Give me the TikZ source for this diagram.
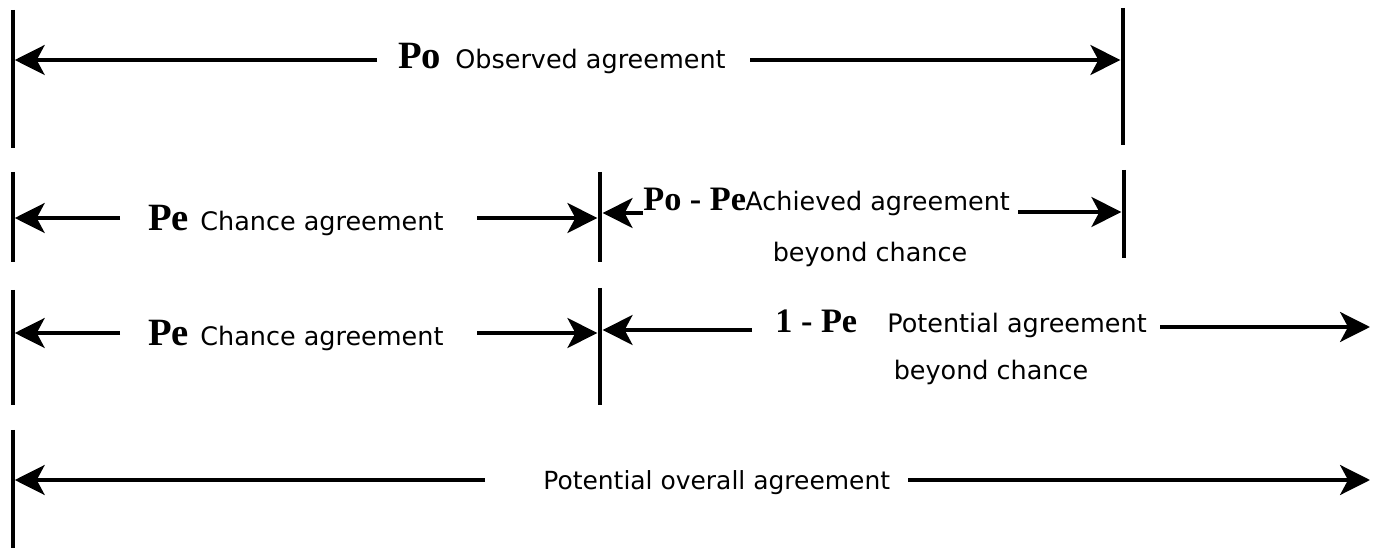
\documentclass[tikz,border=0pt]{standalone}
\usepackage{fontspec}
\setmainfont{DejaVu Sans}
\newfontfamily\serifb{Liberation Serif}
\usetikzlibrary{arrows.meta}
\tikzset{
  bar/.style={line width=2.3pt},
  arr/.style={line width=2.3pt,-{Stealth[length=17pt,width=17pt,inset=4.5pt]}},
  lbl/.style={inner sep=0pt,anchor=base west,font=\fontsize{14.5}{17}\selectfont},
  lblc/.style={inner sep=0pt,anchor=base,font=\fontsize{14.5}{17}\selectfont},
  sym/.style={inner sep=0pt,anchor=base west,font=\serifb\bfseries\fontsize{22}{24}\selectfont},
  syms/.style={sym,font=\serifb\bfseries\fontsize{19.5}{22}\selectfont},
}
\begin{document}
\begin{tikzpicture}[x=0.02cm,y=-0.02cm]
\useasboundingbox (0,0) rectangle (1373,550);
% bars
\coordinate (b1t) at (13,10);   \coordinate (b1b) at (13,148);
\coordinate (b1rt) at (1123,8); \coordinate (b1rb) at (1123,145);
\coordinate (b2t) at (13,172);  \coordinate (b2b) at (13,262);
\coordinate (b2mt) at (600,172);\coordinate (b2mb) at (600,262);
\coordinate (b2rt) at (1124,170);\coordinate (b2rb) at (1124,258);
\coordinate (b3t) at (13,290);  \coordinate (b3b) at (13,405);
\coordinate (b3mt) at (600,288);\coordinate (b3mb) at (600,405);
\coordinate (b4t) at (13,430);  \coordinate (b4b) at (13,548);
\foreach \a/\b in {b1t/b1b,b1rt/b1rb,b2t/b2b,b2mt/b2mb,b2rt/b2rb,b3t/b3b,b3mt/b3mb,b4t/b4b}
  \draw[bar] (\a) -- (\b);
% row 1
\node[sym] (p1) at (398,69) {Po};
\node[lbl] (t1) at (455,69) {Observed agreement};
\coordinate (a1l) at (377,60); \coordinate (a1r) at (750,60);
\draw[arr] (a1l) -- ([xshift=1pt]b1t |- a1l);
\draw[arr] (a1r) -- ([xshift=-1.5pt]b1rt |- a1r);
% row 2 left
\node[sym] (p2) at (148,231) {Pe};
\node[lbl] (t2) at (200,231) {Chance agreement};
\coordinate (a2l) at (120,218); \coordinate (a2r) at (477,218);
\draw[arr] (a2l) -- ([xshift=1pt]b2t |- a2l);
\draw[arr] (a2r) -- ([xshift=-1.5pt]b2mt |- a2r);
% row 2 right
\node[syms] (p2b) at (643,211) {Po - Pe};
\node[lbl] (t2b) at (745,211) {Achieved agreement};
\node[lblc] (t2c) at (870,262) {beyond chance};
\coordinate (a2bl) at (643,213); \coordinate (a2br) at (1018,212);
\draw[arr] (a2bl) -- ([xshift=1.5pt]b2mt |- a2bl);
\draw[arr] (a2br) -- ([xshift=-1.5pt]b2rt |- a2br);
% row 3 left
\node[sym] (p3) at (148,346) {Pe};
\node[lbl] (t3) at (200,346) {Chance agreement};
\coordinate (a3l) at (120,333); \coordinate (a3r) at (477,333);
\draw[arr] (a3l) -- ([xshift=1pt]b3t |- a3l);
\draw[arr] (a3r) -- ([xshift=-1.5pt]b3mt |- a3r);
% row 3 right
\node[syms] (p3b) at (775,333) {1 - Pe};
\node[lbl] (t3b) at (887,333) {Potential agreement};
\node[lblc] (t3c) at (991,380) {beyond chance};
\coordinate (a3bl) at (752,330); \coordinate (a3br) at (1160,327);
\coordinate (e3) at (1370,327);
\draw[arr] (a3bl) -- ([xshift=1.5pt]b3mt |- a3bl);
\draw[arr] (a3br) -- (e3);
% row 4
\node[lbl,font=\fontsize{14.2}{17}\selectfont] (t4) at (543,490) {Potential overall agreement};
\coordinate (a4l) at (485,480); \coordinate (a4r) at (908,480);
\coordinate (e4) at (1370,480);
\draw[arr] (a4l) -- ([xshift=1pt]b4t |- a4l);
\draw[arr] (a4r) -- (e4);
\end{tikzpicture}
\end{document}
